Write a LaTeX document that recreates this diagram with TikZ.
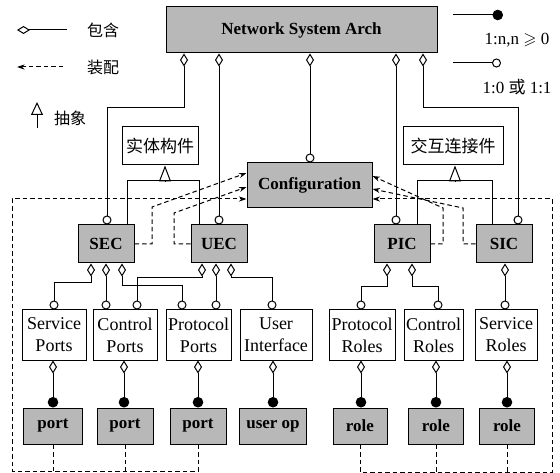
\documentclass[tikz,border=0pt]{standalone}
\usepackage{fontspec}
\setmainfont{Liberation Serif}
\newfontfamily\cjk{Noto Sans CJK SC}
\usepackage{amssymb}
\usetikzlibrary{arrows.meta,calc}
\definecolor{boxgray}{RGB}{184,184,184}
\begin{document}
\begin{tikzpicture}[x=1pt,y=-1pt,
  line width=1pt,
  gbox/.style={draw, fill=boxgray, inner sep=0pt, font=\fontsize{17}{20}\selectfont\bfseries},
  wbox/.style={draw, fill=white, inner sep=0pt, align=center, font=\fontsize{18}{22}\selectfont},
  cbox/.style={draw, fill=white, inner sep=0pt, font=\fontsize{17}{20}\selectfont\cjk},
  lgc/.style={inner sep=0pt, font=\fontsize{16}{19}\selectfont\cjk},
  lgt/.style={inner sep=0pt, font=\fontsize{17}{20}\selectfont},
  dc/.style={arrows={Diamond[open,length=13pt,width=8pt]-Circle[open,length=9pt]}},
  df/.style={arrows={Diamond[open,length=13pt,width=8pt]-Circle[length=10.5pt]}},
  dsh/.style={dash pattern=on 4.5pt off 3pt},
  dar/.style={dsh, -{Stealth[length=7.5pt,width=5pt]}},
  abst/.style={-{Triangle[open,length=16pt,width=12pt]}},
]
\fill[white] (0,0) rectangle (560,473);
\useasboundingbox (0,0) rectangle (560,473);

% main nodes
\node[gbox, minimum width=271pt, minimum height=46pt] (nsa) at (301.5,30) {Network System Arch};
\node[gbox, minimum width=125pt, minimum height=45pt] (config) at (309.5,185.5) {Configuration};
\node[cbox, minimum width=76pt, minimum height=38pt] (shiti) at (160,146) {实体构件};
\node[cbox, minimum width=100pt, minimum height=38pt] (jiaohu) at (453,146) {交互连接件};

\node[gbox, minimum width=56pt, minimum height=38pt] (sec) at (106,244) {SEC};
\node[gbox, minimum width=56pt, minimum height=38pt] (uec) at (219,244) {UEC};
\node[gbox, minimum width=56pt, minimum height=38pt] (pic) at (402,244) {PIC};
\node[gbox, minimum width=56pt, minimum height=38pt] (sic) at (504,244) {SIC};

\node[wbox, minimum width=64pt, minimum height=50pt] (sp) at (54,335) {Service\\Ports};
\node[wbox, minimum width=64pt, minimum height=50pt] (cp) at (125,335) {Control\\Ports};
\node[wbox, minimum width=65pt, minimum height=50pt] (pp) at (198.5,335) {Protocol\\Ports};
\node[wbox, minimum width=72pt, minimum height=50pt] (ui) at (276,335) {User\\Interface};
\node[wbox, minimum width=66pt, minimum height=50pt] (pr) at (362,335) {Protocol\\Roles};
\node[wbox, minimum width=59pt, minimum height=50pt] (cr) at (433.5,335) {Control\\Roles};
\node[wbox, minimum width=62pt, minimum height=50pt] (sr) at (506,335) {Service\\Roles};

\node[gbox, minimum width=59pt, minimum height=36pt] (port1) at (53,426) {port};
\node[gbox, minimum width=56pt, minimum height=36pt] (port2) at (125,426) {port};
\node[gbox, minimum width=56pt, minimum height=36pt] (port3) at (198,426) {port};
\node[gbox, minimum width=67pt, minimum height=36pt] (userop) at (273,426) {user op};
\node[gbox, minimum width=54pt, minimum height=36pt] (role1) at (360,426) {role};
\node[gbox, minimum width=55pt, minimum height=36pt] (role2) at (436,426) {role};
\node[gbox, minimum width=55pt, minimum height=36pt] (role3) at (507,426) {role};

% legend
\coordinate (l1a) at (17,30); \coordinate (l1b) at (67,30);
\draw[arrows={Diamond[open,length=13pt,width=8pt]-}] (l1a) -- (l1b);
\node[lgc] (lg1) at (103,30) {包含};
\coordinate (l2a) at (63,67); \coordinate (l2b) at (17,67);
\draw[dar] (l2a) -- (l2b);
\node[lgc] (lg2) at (103,67) {装配};
\coordinate (l3a) at (37,128); \coordinate (l3b) at (37,102);
\draw[-{Triangle[open,length=13pt,width=12pt]}] (l3a) -- (l3b);
\node[lgc] (lg3) at (70,118) {抽象};

\coordinate (r1a) at (453,15); \coordinate (r1b) at (503,15);
\draw[-{Circle[length=10.5pt]}] (r1a) -- (r1b);
\node[lgt] (lg4) at (517,40) {1:n,n $\geqslant$ 0};
\coordinate (r2a) at (453,63); \coordinate (r2b) at (501,63);
\draw[-{Circle[open,length=9pt]}] (r2a) -- (r2b);
\node[lgt] (lg5) at (517,87) {1:0 {\cjk 或} 1:1};

% top containment
\draw[dc] (nsa.south -| 184,0) |- (107,108) -- (sec.north -| 107,0);
\draw[dc] (nsa.south -| 219,0) -- (uec.north);
\draw[dc] (nsa.south -| 310,0) -- (config.north -| 310,0);
\draw[dc] (nsa.south -| 396,0) -- (pic.north -| 396,0);
\draw[dc] (nsa.south -| 423,0) |- (518,108) -- (sic.north -| 518,0);

% abstraction
\draw (sec.north -| 127,0) -- (127,181) -- (199,181) -- (uec.north -| 199,0);
\draw[abst] (165,181) -- (shiti.south -| 165,0);
\draw (pic.north -| 417,0) -- (417,181) -- (492,181) -- (sic.north -| 492,0);
\draw[abst] (455,181) -- (jiaohu.south -| 455,0);

% assembly (dashed)
\draw[dar] (sec.east) -- (152,244) -- (152,207) -- (config.west |- 0,173);
\draw[dar] (uec.west) -- (174,244) -- (174,213) -- (config.west |- 0,187);
\draw[dar] (pic.east) -- (443,244) -- (443,208) -- (config.east |- 0,176);
\draw[dar] (sic.west) -- (463,244) -- (463,208) -- (config.east |- 0,189);
\draw[dar] (port3.south) -- (port3.south |- 0,471) -- (12,471) -- (12,199) -- (config.west |- 0,199);
\draw[dsh] (port1.south) -- (port1.south |- 0,471);
\draw[dsh] (port2.south) -- (port2.south |- 0,471);
\draw[dar] (role1.south) -- (role1.south |- 0,472) -- (552,472) -- (552,199) -- (config.east |- 0,199);
\draw[dsh] (role2.south) -- (role2.south |- 0,472);
\draw[dsh] (role3.south) -- (role3.south |- 0,472);

% lower containment
\draw[dc] (sec.south -| 91,0) |- (54,283) -- (sp.north -| 54,0);
\draw[dc] (sec.south -| 106,0) -- (cp.north -| 106,0);
\draw[dc] (sec.south -| 122,0) |- (182,286) -- (pp.north -| 182,0);
\draw[dc] (uec.south -| 202,0) |- (137,278) -- (cp.north -| 137,0);
\draw[dc] (uec.south -| 216,0) -- (pp.north -| 216,0);
\draw[dc] (uec.south -| 231,0) |- (272,278) -- (ui.north -| 272,0);
\draw[dc] (pic.south -| 387,0) |- (361,287) -- (pr.north -| 361,0);
\draw[dc] (pic.south -| 412,0) |- (438,287) -- (cr.north -| 438,0);
\draw[dc] (sic.south -| 505,0) -- (sr.north -| 505,0);

\draw[df] (sp.south -| 53,0) -- (port1.north -| 53,0);
\draw[df] (cp.south -| 124,0) -- (port2.north -| 124,0);
\draw[df] (pp.south -| 198,0) -- (port3.north -| 198,0);
\draw[df] (ui.south -| 273,0) -- (userop.north -| 273,0);
\draw[df] (pr.south -| 361,0) -- (role1.north -| 361,0);
\draw[df] (cr.south -| 436,0) -- (role2.north -| 436,0);
\draw[df] (sr.south -| 507,0) -- (role3.north -| 507,0);
\end{tikzpicture}
\end{document}
